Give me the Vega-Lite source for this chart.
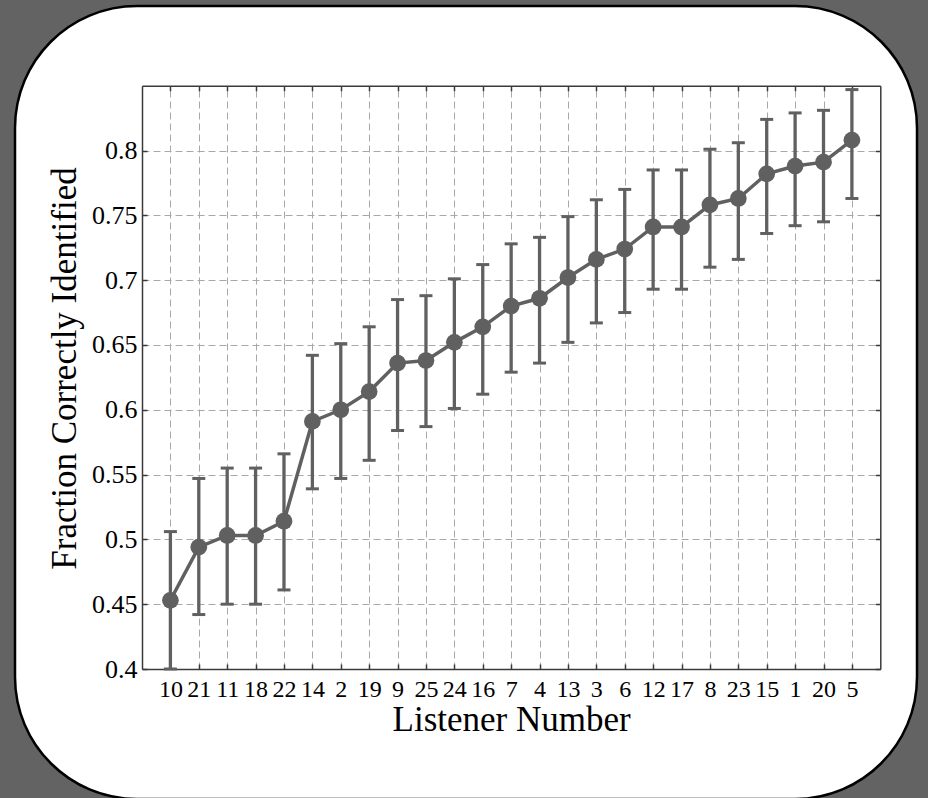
{
  "$schema": "https://vega.github.io/schema/vega-lite/v6.json",
  "autosize": {"type": "none"},
  "padding": {"left": 15, "top": 6, "right": 11, "bottom": 0},
  "width": 902,
  "height": 793,
  "background": "#636363",
  "config": {
    "view": {"fill": "white", "stroke": "black", "strokeWidth": 2.5, "cornerRadius": 122},
    "axis": {
      "labelFont": "Liberation Serif",
      "labelFontSize": 25,
      "labelColor": "black",
      "tickSize": -5,
      "tickColor": "#3a3a3a",
      "tickWidth": 1.5,
      "domainColor": "#3a3a3a",
      "domainWidth": 1.5,
      "gridColor": "#a8a8a8",
      "gridDash": [7, 4],
      "gridWidth": 1,
      "titleFont": "Liberation Serif",
      "titleFontSize": 35,
      "titleFontWeight": "normal",
      "titleColor": "black",
      "labelOverlap": false,
      "labelFlush": false,
      "labelAngle": 0
    }
  },
  "data": {
    "values": [
      {"listener": "10", "mean": 0.453, "lo": 0.400, "hi": 0.506},
      {"listener": "21", "mean": 0.494, "lo": 0.442, "hi": 0.547},
      {"listener": "11", "mean": 0.503, "lo": 0.450, "hi": 0.555},
      {"listener": "18", "mean": 0.503, "lo": 0.450, "hi": 0.555},
      {"listener": "22", "mean": 0.514, "lo": 0.461, "hi": 0.566},
      {"listener": "14", "mean": 0.591, "lo": 0.539, "hi": 0.642},
      {"listener": "2", "mean": 0.600, "lo": 0.547, "hi": 0.651},
      {"listener": "19", "mean": 0.614, "lo": 0.561, "hi": 0.664},
      {"listener": "9", "mean": 0.636, "lo": 0.584, "hi": 0.685},
      {"listener": "25", "mean": 0.638, "lo": 0.587, "hi": 0.688},
      {"listener": "24", "mean": 0.652, "lo": 0.601, "hi": 0.701},
      {"listener": "16", "mean": 0.664, "lo": 0.612, "hi": 0.712},
      {"listener": "7", "mean": 0.680, "lo": 0.629, "hi": 0.728},
      {"listener": "4", "mean": 0.686, "lo": 0.636, "hi": 0.733},
      {"listener": "13", "mean": 0.702, "lo": 0.652, "hi": 0.749},
      {"listener": "3", "mean": 0.716, "lo": 0.667, "hi": 0.762},
      {"listener": "6", "mean": 0.724, "lo": 0.675, "hi": 0.770},
      {"listener": "12", "mean": 0.741, "lo": 0.693, "hi": 0.785},
      {"listener": "17", "mean": 0.741, "lo": 0.693, "hi": 0.785},
      {"listener": "8", "mean": 0.758, "lo": 0.710, "hi": 0.801},
      {"listener": "23", "mean": 0.763, "lo": 0.716, "hi": 0.806},
      {"listener": "15", "mean": 0.782, "lo": 0.736, "hi": 0.824},
      {"listener": "1", "mean": 0.788, "lo": 0.742, "hi": 0.829},
      {"listener": "20", "mean": 0.791, "lo": 0.745, "hi": 0.831},
      {"listener": "5", "mean": 0.808, "lo": 0.763, "hi": 0.847}
    ]
  },
  "resolve": {"axis": {"x": "independent", "y": "independent"}},
  "layer": [
    {
      "mark": {"type": "rule", "color": "#606060", "strokeWidth": 3.3},
      "encoding": {
        "x": {"field": "listener", "type": "nominal", "sort": null,
              "scale": {"type": "point", "padding": 1, "range": [127, 865.3]},
              "axis": {"orient": "bottom", "offset": -130, "title": "Listener Number", "labelFontSize": 24, "labelPadding": 13, "titlePadding": 1, "grid": false}},
        "y": {"field": "lo", "type": "quantitative",
              "scale": {"domain": [0.4, 0.85], "range": [663, 79.7], "nice": false, "zero": false},
              "axis": {"orient": "left", "offset": -127, "title": "Fraction Correctly Identified", "titleY": 362, "labelFontSize": 26, "values": [0.4, 0.45, 0.5, 0.55, 0.6, 0.65, 0.7, 0.75, 0.8], "format": "~g", "labelPadding": 10, "titlePadding": 9, "grid": true}},
        "y2": {"field": "hi"}
      }
    },
    {
      "mark": {"type": "tick", "color": "#606060", "size": 13, "thickness": 3, "opacity": 1},
      "encoding": {
        "x": {"field": "listener", "type": "nominal", "sort": null,
              "scale": {"type": "point", "padding": 1, "range": [127, 865.3]},
              "axis": {"orient": "top", "offset": -79.7, "labels": false, "title": null, "grid": true}},
        "y": {"field": "lo", "type": "quantitative",
              "scale": {"domain": [0.4, 0.85], "range": [663, 79.7], "nice": false, "zero": false},
              "axis": {"orient": "right", "offset": -36.7, "labels": false, "title": null, "grid": false, "values": [0.4, 0.45, 0.5, 0.55, 0.6, 0.65, 0.7, 0.75, 0.8]}}
      }
    },
    {
      "mark": {"type": "tick", "color": "#606060", "size": 13, "thickness": 3, "opacity": 1},
      "encoding": {
        "x": {"field": "listener", "type": "nominal", "sort": null, "scale": {"type": "point", "padding": 1, "range": [127, 865.3]}, "axis": null},
        "y": {"field": "hi", "type": "quantitative", "scale": {"domain": [0.4, 0.85], "range": [663, 79.7], "nice": false, "zero": false}, "axis": null}
      }
    },
    {
      "mark": {"type": "line", "color": "#606060", "strokeWidth": 3.5},
      "encoding": {
        "x": {"field": "listener", "type": "nominal", "sort": null, "scale": {"type": "point", "padding": 1, "range": [127, 865.3]}, "axis": null},
        "y": {"field": "mean", "type": "quantitative", "scale": {"domain": [0.4, 0.85], "range": [663, 79.7], "nice": false, "zero": false}, "axis": null}
      }
    },
    {
      "mark": {"type": "point", "filled": true, "color": "#606060", "size": 280, "opacity": 1},
      "encoding": {
        "x": {"field": "listener", "type": "nominal", "sort": null, "scale": {"type": "point", "padding": 1, "range": [127, 865.3]}, "axis": null},
        "y": {"field": "mean", "type": "quantitative", "scale": {"domain": [0.4, 0.85], "range": [663, 79.7], "nice": false, "zero": false}, "axis": null}
      }
    }
  ]
}
